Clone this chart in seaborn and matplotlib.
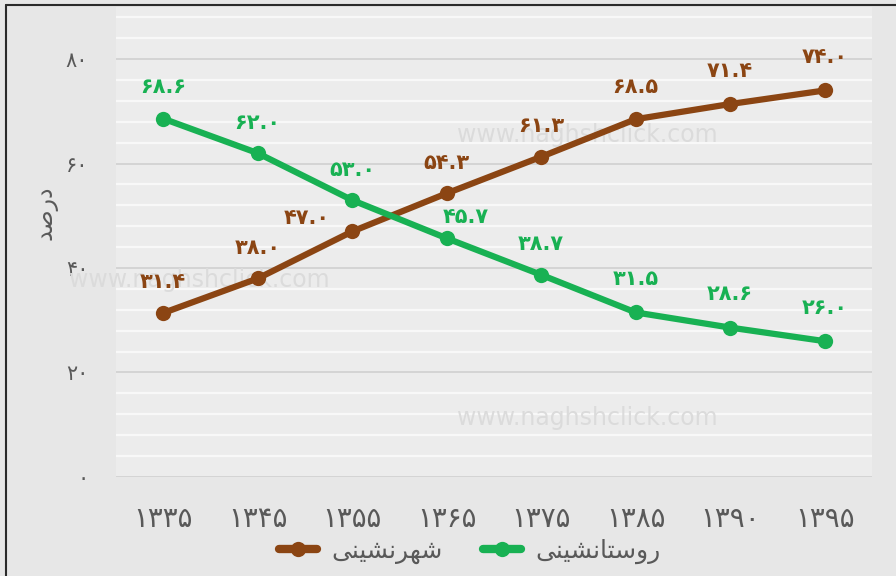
import matplotlib
matplotlib.use("Agg")
import matplotlib.pyplot as plt
from matplotlib.lines import Line2D
import seaborn as sns
import pandas as pd

# --- data -------------------------------------------------------------
years = [1335, 1345, 1355, 1365, 1375, 1385, 1390, 1395]
urban = [31.4, 38.0, 47.0, 54.3, 61.3, 68.5, 71.4, 74.0]
rural = [68.6, 62.0, 53.0, 45.7, 38.7, 31.5, 28.6, 26.0]
y_ticks = [0, 20, 40, 60, 80]

urban_name = "شهرنشینی"
rural_name = "روستانشینی"
y_title = "درصد"

URBAN_COLOR = "#8B4513"
RURAL_COLOR = "#18B153"
TEXT_GRAY = "#595959"

# --- helpers for Persian text (matplotlib has no bidi/shaping) ----------
FA_DIGITS = str.maketrans("0123456789", "۰۱۲۳۴۵۶۷۸۹")


def fa(s):
    return str(s).translate(FA_DIGITS)


# (isolated, final, initial, medial)
FORMS = {
    "ا": ("\uFE8D", "\uFE8E", None, None),
    "ت": ("\uFE95", "\uFE96", "\uFE97", "\uFE98"),
    "د": ("\uFEA9", "\uFEAA", None, None),
    "ر": ("\uFEAD", "\uFEAE", None, None),
    "و": ("\uFEED", "\uFEEE", None, None),
    "س": ("\uFEB1", "\uFEB2", "\uFEB3", "\uFEB4"),
    "ش": ("\uFEB5", "\uFEB6", "\uFEB7", "\uFEB8"),
    "ص": ("\uFEB9", "\uFEBA", "\uFEBB", "\uFEBC"),
    "ن": ("\uFEE5", "\uFEE6", "\uFEE7", "\uFEE8"),
    "ه": ("\uFEE9", "\uFEEA", "\uFEEB", "\uFEEC"),
    "ی": ("\uFBFC", "\uFBFD", "\uFBFE", "\uFBFF"),
}


def shape(word):
    out = []
    for i, c in enumerate(word):
        f = FORMS.get(c)
        if f is None:
            out.append(c)
            continue
        prev = word[i - 1] if i > 0 else None
        nxt = word[i + 1] if i + 1 < len(word) else None
        jp = prev in FORMS and FORMS[prev][2] is not None
        jn = f[2] is not None and nxt in FORMS
        if jp and jn:
            out.append(f[3])
        elif jp:
            out.append(f[1])
        elif jn:
            out.append(f[2])
        else:
            out.append(f[0])
    return "".join(reversed(out))


# --- table ---------------------------------------------------------------
cats = [fa(y) for y in years]
df = pd.DataFrame({
    "year": cats * 2,
    "value": urban + rural,
    "series": [urban_name] * len(years) + [rural_name] * len(years),
})

sns.set_theme(style="white")
plt.rcParams["font.family"] = ["DejaVu Sans"]

fig = plt.figure(figsize=(8.96, 5.76), dpi=100, facecolor="#e7e7e7")
ax = fig.add_axes([0.1295, 0.172, 0.8435, 0.816])
ax.set_facecolor("#ececec")

# grid: light minor lines every 4, gray major lines every 20
for v in range(4, 90, 4):
    if v % 20:
        ax.axhline(v, color="#f8f8f8", lw=1.6, zorder=0.5)
for v in y_ticks:
    ax.axhline(v, color="#d2d2d2", lw=1.3, zorder=0.6)

# watermark
for (wx, wy) in [(0.624, 0.728), (0.624, 0.126), (0.11, 0.418)]:
    ax.text(wx, wy, "www.naghshclick.com", transform=ax.transAxes,
            fontsize=17, color="#dbdbdb", ha="center", va="center", zorder=0.7)

palette = {urban_name: URBAN_COLOR, rural_name: RURAL_COLOR}
sns.lineplot(data=df, x="year", y="value", hue="series", palette=palette,
             marker="o", markersize=11, markeredgewidth=0, linewidth=4.5,
             sort=False, legend=False, ax=ax, zorder=3)

ax.set_xlim(-0.5, len(years) - 0.5)
ax.set_ylim(0, 90)
for s in ax.spines.values():
    s.set_visible(False)

ax.set_yticks(y_ticks)
ax.set_yticklabels([fa(t) for t in y_ticks], color=TEXT_GRAY, fontsize=15)
ax.set_xticks(range(len(cats)))
ax.set_xticklabels(cats, color=TEXT_GRAY, fontsize=20)
ax.tick_params(axis="y", length=0, pad=20)
ax.tick_params(axis="x", length=0, pad=20)
ax.set_xlabel("")
ax.set_ylabel("")

fig.text(45 / 896, 1 - 213 / 576, shape(y_title), rotation=90,
         ha="center", va="center", fontsize=17, color=TEXT_GRAY)

# value labels
urban_off = [(0, 22), (0, 22), (-33, 10), (0, 22), (0, 22), (0, 23), (0, 24), (0, 24)]
rural_off = [(0, 23), (0, 22), (0, 22), (14, 15), (0, 22), (0, 24), (0, 24), (0, 24)]
for i, c in enumerate(cats):
    ax.annotate(fa(f"{urban[i]:.1f}"), (i, urban[i]), xytext=urban_off[i],
                textcoords="offset points", ha="center", va="center",
                fontsize=15, fontweight="bold", color=URBAN_COLOR, zorder=5)
    ax.annotate(fa(f"{rural[i]:.1f}"), (i, rural[i]), xytext=rural_off[i],
                textcoords="offset points", ha="center", va="center",
                fontsize=15, fontweight="bold", color=RURAL_COLOR, zorder=5)

# legend
handles = [
    Line2D([], [], color=URBAN_COLOR, lw=6, marker="o", markersize=11, markeredgewidth=0),
    Line2D([], [], color=RURAL_COLOR, lw=6, marker="o", markersize=11, markeredgewidth=0),
]
fig.legend(handles, [shape(urban_name), shape(rural_name)], loc="center",
           bbox_to_anchor=(470 / 896, 1 - 551 / 576), ncol=2, frameon=False,
           fontsize=18, labelcolor=TEXT_GRAY, handlelength=1.5,
           columnspacing=1.6, handletextpad=0.6)

# outer frame
fig.add_artist(Line2D([6 / 896, 6 / 896], [0, 1 - 5 / 576], transform=fig.transFigure,
                      color="#2b2b2b", lw=1.5))
fig.add_artist(Line2D([6 / 896, 1], [1 - 5 / 576, 1 - 5 / 576], transform=fig.transFigure,
                      color="#2b2b2b", lw=1.5))

fig.savefig("out.png", dpi=100, facecolor=fig.get_facecolor())
